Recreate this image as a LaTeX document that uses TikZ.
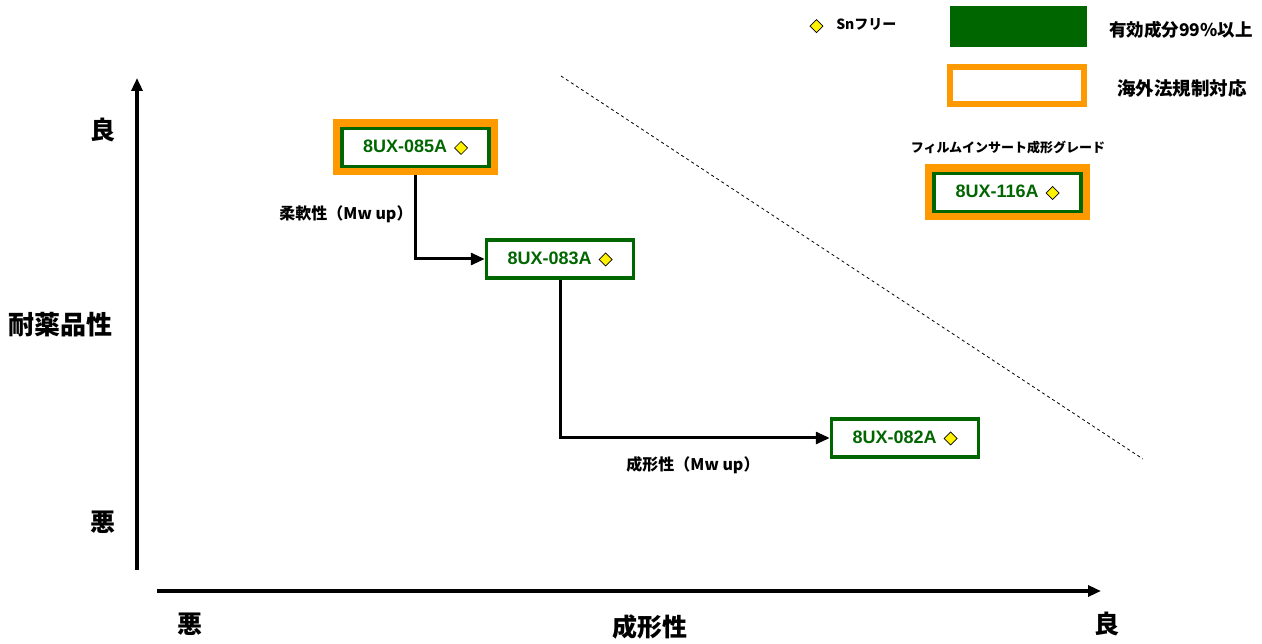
\documentclass[tikz,border=0pt]{standalone}
\usepackage{fontspec}
\setmainfont{Liberation Sans}
\newfontfamily\jp{Noto Sans CJK JP}
\usetikzlibrary{arrows.meta,positioning,calc}
\definecolor{gradegreen}{RGB}{0,102,0}
\definecolor{regorange}{RGB}{255,153,0}
\newcommand{\snfree}{\tikz[baseline=-0.5ex]\draw[draw=black, fill=yellow, line width=0.7pt] (0pt,6.5pt) -- (6.5pt,0pt) -- (0pt,-6.5pt) -- (-6.5pt,0pt) -- cycle;}
\tikzset{
  grade/.style={draw=gradegreen, line width=3.5pt, fill=white, minimum width=147pt, minimum height=38pt, inner sep=0pt, text=gradegreen, font=\bfseries\fontsize{18}{20}\selectfont},
  regulated/.style={grade, preaction={draw=regorange, line width=18pt}},
  axis/.style={line width=3.5pt, -{Triangle[length=13pt,width=11pt]}},
  flow/.style={line width=3pt, -{Triangle[length=14pt,width=12pt]}},
  axislabel/.style={font=\jp\bfseries\fontsize{25}{27}\selectfont},
  note/.style={font=\jp\bfseries\fontsize{16}{18}\selectfont},
  legendtext/.style={font=\jp\bfseries\fontsize{17.5}{19}\selectfont}
}
\begin{document}
\begin{tikzpicture}[x=1pt, y=-1pt]
  \useasboundingbox (0,0) rectangle (1262,644);
  \coordinate (ybot) at (137,570);
  \coordinate (ytop) at (137,78);
  \coordinate (xleft) at (157,591);
  \coordinate (xright) at (1101,591);
  \coordinate (limA) at (561,76);
  \coordinate (limB) at (1143,459);
  \draw[axis] (ybot) -- (ytop);
  \draw[axis] (xleft) -- (xright);
  \draw[dashed, line width=0.8pt, dash pattern=on 3pt off 3pt] (limA) -- (limB);
  \node[axislabel] (ygood) at (103,130) {良};
  \node[axislabel, font=\jp\bfseries\fontsize{26}{28}\selectfont] (yname) at (61,325) {耐薬品性};
  \node[axislabel] (ybad) at (103,522) {悪};
  \node[axislabel] (xbad) at (190,624) {悪};
  \node[axislabel] (xname) at (650,627) {成形性};
  \node[axislabel] (xgood) at (1107,624) {良};
  \node[regulated] (g085) at (415.5,147.5) {8UX-085A\hspace{7pt}\snfree};
  \node[grade] (g083) at (560,259) {8UX-083A\hspace{7pt}\snfree};
  \node[grade] (g082) at (905,438) {8UX-082A\hspace{7pt}\snfree};
  \node[regulated] (g116) at (1007.5,192.5) {8UX-116A\hspace{7pt}\snfree};
  \node[note, font=\jp\bfseries\fontsize{13}{15}\selectfont] (film) at (1008,148) {フィルムインサート成形グレード};
  \draw[flow, shorten <=7pt] (g085.south) |- (g083.west);
  \draw[flow] (g083.south) |- (g082.west);
  \node[note] (soft) at (346,214) {柔軟性（Mw up）};
  \node[note] (mold) at (693,465) {成形性（Mw up）};
  \node[note, font=\jp\bfseries\fontsize{14}{16}\selectfont] (snkey) at (853,26) {\snfree\hspace{13pt}Snフリー};
  \node[fill=gradegreen, minimum width=137pt, minimum height=41pt, inner sep=0pt] (purekey) at (1018.5,26.5) {};
  \node[draw=regorange, line width=6pt, minimum width=134pt, minimum height=37pt, inner sep=0pt] (regkey) at (1017,85.5) {};
  \node[legendtext] (puretext) at (1181,30) {有効成分99\%以上};
  \node[legendtext, font=\jp\bfseries\fontsize{18.5}{20}\selectfont] (regtext) at (1182,88) {海外法規制対応};
\end{tikzpicture}
\end{document}
